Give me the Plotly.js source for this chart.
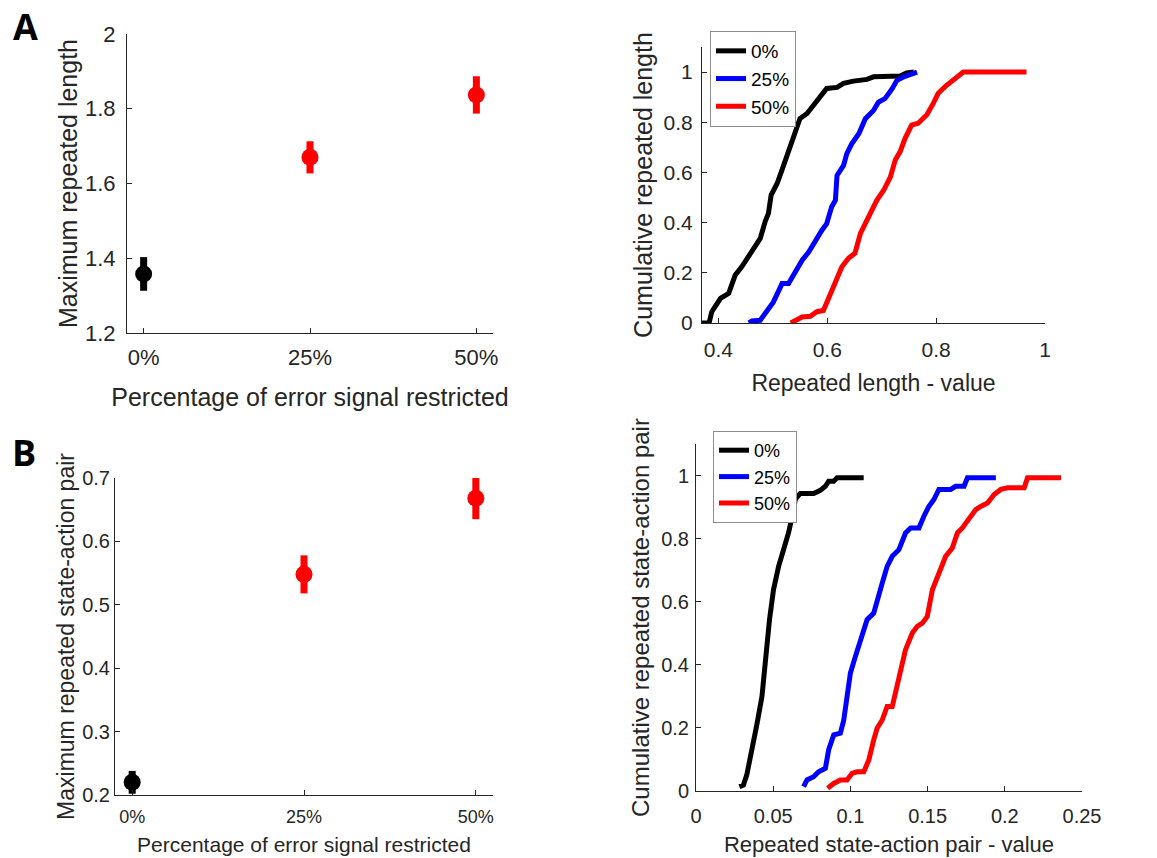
<!DOCTYPE html>
<html>
<head>
<meta charset="utf-8">
<script src="https://cdn.plot.ly/plotly-3.0.1.min.js"></script>
<style>html,body{margin:0;padding:0;background:#fff;}#chart{width:1157px;height:858px;}</style>
</head>
<body>
<div id="chart"></div>
<script>
// ---------- data ----------
const categories = ['0%', '25%', '50%'];
const seriesColors = ['#000000', '#FF0000', '#FF0000'];

// Panel A left: maximum repeated length (mean, error)
const maxLenMean = [1.358, 1.670, 1.837];
const maxLenErr  = [0.045, 0.043, 0.050];

// Panel B left: maximum repeated state-action pair (mean, error)
const maxPairMean = [0.220, 0.548, 0.668];
const maxPairErr  = [0.018, 0.030, 0.033];

// Panel A right: cumulative repeated length
const cdfLen0x = [0.370,0.383,0.388,0.404,0.419,0.431,0.443,0.453,0.465,0.477,0.486,0.492,0.497,0.508,0.517,0.526,0.535,0.544,0.550,0.563,0.575,0.587,0.599,0.618,0.630,0.648,0.673,0.685,0.734,0.746,0.759];
const cdfLen0y = [0.000,0.000,0.045,0.098,0.118,0.191,0.224,0.258,0.298,0.337,0.404,0.437,0.510,0.556,0.610,0.663,0.729,0.769,0.815,0.835,0.869,0.895,0.935,0.939,0.955,0.964,0.971,0.981,0.984,0.997,1.000];
const cdfLen25x = [0.456,0.462,0.477,0.489,0.501,0.514,0.517,0.529,0.541,0.554,0.566,0.578,0.590,0.599,0.608,0.615,0.618,0.630,0.636,0.645,0.658,0.670,0.685,0.694,0.706,0.719,0.728,0.743,0.755,0.765];
const cdfLen25y = [0.000,0.008,0.011,0.050,0.083,0.143,0.157,0.157,0.203,0.250,0.283,0.330,0.369,0.396,0.462,0.489,0.588,0.628,0.675,0.714,0.754,0.814,0.847,0.880,0.894,0.933,0.967,0.983,0.991,1.000];
const cdfLen50x = [0.533,0.541,0.554,0.569,0.581,0.593,0.602,0.615,0.627,0.639,0.651,0.661,0.673,0.682,0.691,0.704,0.716,0.725,0.734,0.743,0.755,0.767,0.783,0.795,0.804,0.817,0.829,0.841,0.850,0.966];
const cdfLen50y = [0.000,0.011,0.024,0.027,0.045,0.050,0.098,0.157,0.224,0.258,0.278,0.357,0.411,0.457,0.489,0.530,0.582,0.650,0.683,0.736,0.789,0.796,0.830,0.876,0.916,0.943,0.963,0.987,1.000,1.000];

// Panel B right: cumulative repeated state-action pair
const cdfPair0x = [0.0281,0.0307,0.0329,0.0362,0.0394,0.0427,0.0448,0.0476,0.0502,0.0535,0.0567,0.0599,0.0628,0.0643,0.0675,0.0762,0.0805,0.0838,0.0859,0.0892,0.0914,0.1086];
const cdfPair0y = [0.014,0.019,0.051,0.125,0.210,0.299,0.416,0.543,0.638,0.712,0.765,0.818,0.881,0.924,0.943,0.943,0.953,0.966,0.982,0.982,0.993,0.993];
const cdfPair25x = [0.0697,0.0719,0.0762,0.0794,0.0838,0.0859,0.0892,0.0935,0.0957,0.0978,0.1000,0.1032,0.1065,0.1108,0.1151,0.1184,0.1206,0.1238,0.1271,0.1314,0.1357,0.1390,0.1444,0.1476,0.1508,0.1541,0.1573,0.1649,0.1682,0.1736,0.1758,0.1942];
const cdfPair25y = [0.014,0.035,0.045,0.061,0.072,0.130,0.178,0.183,0.225,0.310,0.374,0.426,0.479,0.543,0.564,0.628,0.659,0.712,0.744,0.765,0.818,0.834,0.834,0.871,0.902,0.924,0.956,0.956,0.966,0.966,0.993,0.993];
const cdfPair50x = [0.0853,0.0892,0.0935,0.0978,0.1011,0.1044,0.1087,0.1119,0.1151,0.1173,0.1206,0.1238,0.1271,0.1292,0.1325,0.1357,0.1401,0.1433,0.1466,0.1498,0.1531,0.1573,0.1617,0.1660,0.1693,0.1725,0.1768,0.1812,0.1844,0.1888,0.1931,0.1974,0.2018,0.2126,0.2147,0.2364];
const cdfPair50y = [0.009,0.024,0.035,0.035,0.056,0.061,0.061,0.098,0.162,0.199,0.225,0.268,0.268,0.310,0.374,0.448,0.501,0.522,0.532,0.553,0.638,0.691,0.744,0.770,0.818,0.834,0.866,0.892,0.902,0.913,0.940,0.956,0.961,0.961,0.993,0.993];

const legendNames = ['0%', '25%', '50%'];
const cdfColors = ['#000000', '#0000FF', '#FF0000'];

// ---------- traces ----------
const traces = [];
for (let i = 0; i < categories.length; i++) {
  traces.push({
    type: 'scatter', mode: 'markers', xaxis: 'x', yaxis: 'y',
    x: [categories[i]], y: [maxLenMean[i]], showlegend: false,
    marker: {color: seriesColors[i], size: 17, line: {width: 0}},
    error_y: {type: 'data', array: [maxLenErr[i]], color: seriesColors[i], thickness: 7, width: 0}
  });
  traces.push({
    type: 'scatter', mode: 'markers', xaxis: 'x3', yaxis: 'y3',
    x: [categories[i]], y: [maxPairMean[i]], showlegend: false,
    marker: {color: seriesColors[i], size: 17, line: {width: 0}},
    error_y: {type: 'data', array: [maxPairErr[i]], color: seriesColors[i], thickness: 7, width: 0}
  });
}
const lenX = [cdfLen0x, cdfLen25x, cdfLen50x], lenY = [cdfLen0y, cdfLen25y, cdfLen50y];
const pairX = [cdfPair0x, cdfPair25x, cdfPair50x], pairY = [cdfPair0y, cdfPair25y, cdfPair50y];
for (let i = 0; i < 3; i++) {
  traces.push({
    type: 'scatter', mode: 'lines', xaxis: 'x2', yaxis: 'y2', name: legendNames[i], legend: 'legend',
    x: lenX[i], y: lenY[i], line: {color: cdfColors[i], width: 5}
  });
  traces.push({
    type: 'scatter', mode: 'lines', xaxis: 'x4', yaxis: 'y4', name: legendNames[i], legend: 'legend2',
    x: pairX[i], y: pairY[i], line: {color: cdfColors[i], width: 5}
  });
}

// ---------- layout ----------
const W = 1157, H = 858;
const fx = (a, b) => [a / W, b / W];
const fy = (top, bottom) => [1 - bottom / H, 1 - top / H];
const ink = '#262626';
const FONT = 'Liberation Sans, Arial, sans-serif';
function ax(extra) {
  return Object.assign({
    showline: true, linecolor: ink, linewidth: 1, mirror: false,
    ticks: 'inside', ticklen: 5, tickcolor: ink, tickwidth: 1,
    showgrid: false, zeroline: false, fixedrange: true,
    tickfont: {family: FONT, size: 22, color: ink}
  }, extra);
}

const layout = {
  width: W, height: H, autosize: false,
  margin: {l: 0, r: 0, t: 0, b: 0},
  paper_bgcolor: '#ffffff', plot_bgcolor: '#ffffff',
  font: {family: FONT, color: ink},
  xaxis: ax({domain: fx(127, 493), anchor: 'y', type: 'category', range: [-0.1, 2.1], ticklabelstandoff: 5,
    title: {text: 'Percentage of error signal restricted', font: {family: FONT, size: 25, color: ink}, standoff: 19}}),
  yaxis: ax({domain: fy(34, 333), anchor: 'x', range: [1.2, 2], dtick: 0.2, tick0: 1.2, ticklabelstandoff: 6,
    title: {text: 'Maximum repeated length', font: {family: FONT, size: 25, color: ink}, standoff: 0}}),
  xaxis2: ax({domain: fx(702, 1045), anchor: 'y2', range: [0.37, 1], dtick: 0.2, tick0: 0.4, ticklabelstandoff: 8,
    tickfont: {family: FONT, size: 21, color: ink},
    title: {text: 'Repeated length - value', font: {family: FONT, size: 23, color: ink}, standoff: 14}}),
  yaxis2: ax({domain: fy(47, 323), anchor: 'x2', range: [0, 1.1], dtick: 0.2, tick0: 0, ticklabelstandoff: 4,
    tickfont: {family: FONT, size: 21, color: ink},
    title: {text: 'Cumulative repeated length', font: {family: FONT, size: 25, color: ink}, standoff: 3}}),
  xaxis3: ax({domain: fx(115, 493), anchor: 'y3', type: 'category', range: [-0.1, 2.1], ticklabelstandoff: 5,
    tickfont: {family: FONT, size: 18, color: ink},
    title: {text: 'Percentage of error signal restricted', font: {family: FONT, size: 21, color: ink}, standoff: 11}}),
  yaxis3: ax({domain: fy(478, 795), anchor: 'x3', range: [0.2, 0.7], dtick: 0.1, tick0: 0.2,
    tickfont: {family: FONT, size: 20, color: ink},
    title: {text: 'Maximum repeated state-action pair', font: {family: FONT, size: 23, color: ink}, standoff: 1}}),
  xaxis4: ax({domain: fx(696, 1082), anchor: 'y4', range: [0, 0.25], dtick: 0.05, tick0: 0, ticklabelstandoff: 7,
    tickfont: {family: FONT, size: 20, color: ink},
    title: {text: 'Repeated state-action pair - value', font: {family: FONT, size: 22, color: ink}, standoff: 10}}),
  yaxis4: ax({domain: fy(444, 791), anchor: 'x4', range: [0, 1.1], dtick: 0.2, tick0: 0, ticklabelstandoff: 2,
    tickfont: {family: FONT, size: 20, color: ink},
    title: {text: 'Cumulative repeated state-action pair', font: {family: FONT, size: 24, color: ink}, standoff: 4}}),
  legend: {x: 710 / W, y: 1 - 31 / H, xanchor: 'left', yanchor: 'top', bgcolor: '#ffffff',
    bordercolor: '#8c8c8c', borderwidth: 1, font: {family: FONT, size: 19, color: '#000'}},
  legend2: {x: 713 / W, y: 1 - 431 / H, xanchor: 'left', yanchor: 'top', bgcolor: '#ffffff',
    bordercolor: '#8c8c8c', borderwidth: 1, font: {family: FONT, size: 18, color: '#000'}},
  annotations: [
    {text: '<b>A</b>', xref: 'paper', yref: 'paper', x: 25 / W, y: 1 - 27 / H, xanchor: 'center', yanchor: 'middle',
     showarrow: false, font: {family: 'Open Sans, Liberation Sans, sans-serif', size: 36, color: '#000'}},
    {text: '<b>B</b>', xref: 'paper', yref: 'paper', x: 24 / W, y: 1 - 452 / H, xanchor: 'center', yanchor: 'middle',
     showarrow: false, font: {family: 'Open Sans, Liberation Sans, sans-serif', size: 36, color: '#000'}}
  ]
};

Plotly.newPlot('chart', traces, layout, {displayModeBar: false, staticPlot: true});
</script>
</body>
</html>
